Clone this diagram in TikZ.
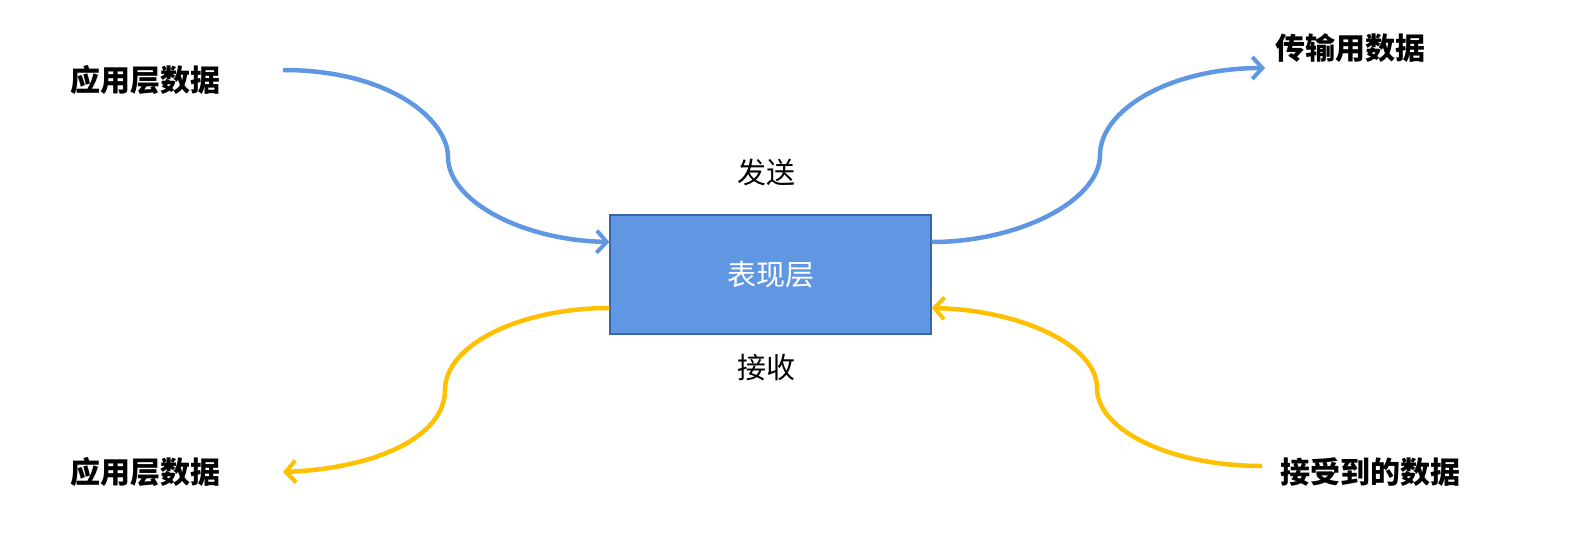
\documentclass[tikz,border=0pt]{standalone}
\usepackage{fontspec}
\newfontfamily\cjk{Noto Sans CJK SC}
\usetikzlibrary{arrows.meta}
\definecolor{bl}{HTML}{6097E3}
\definecolor{bld}{HTML}{3A64A8}
\definecolor{yl}{HTML}{FFC000}
\tikzset{
 lab/.style={font=\cjk\bfseries\fontsize{30}{34}\selectfont},
 txt/.style={font=\cjk\fontsize{29}{33}\selectfont},
 flow/.style={line width=4.5pt,-{Straight Barb[length=10pt,width=22pt,line width=4pt]}}
}
\begin{document}
\begin{tikzpicture}[x=1pt,y=-1pt]
\useasboundingbox (0,0) rectangle (1572,549);
\node[draw=bld,fill=bl,line width=1.2pt,minimum width=321pt,minimum height=119pt,inner sep=0pt,txt,text=white] (box) at (770.5,274.5) {表现层};
\node[lab] (a1) at (145,80) {应用层数据};
\node[lab] (t1) at (1350,48) {传输用数据};
\node[lab] (a2) at (145,472) {应用层数据};
\node[lab] (r1) at (1370,472) {接受到的数据};
\node[txt] (s) at (766,172) {发送};
\node[txt] (j) at (766,368) {接收};
\coordinate (p1) at (283,70);
\coordinate (p2) at (1265,68);
\coordinate (p3) at (283,472);
\coordinate (p4) at (1262,466);
\draw[flow,bl] (p1) .. controls (390,70) and (448,120) .. (448,157) .. controls (448,200) and (520,240) .. (box.west|-0,242);
\draw[flow,bl] (box.east|-0,242) .. controls (1020,242) and (1100,200) .. (1100,155) .. controls (1100,110) and (1170,68) .. (p2);
\draw[flow,yl] (box.west|-0,308) .. controls (520,308) and (445,345) .. (445,390) .. controls (445,435) and (380,468) .. (p3);
\draw[flow,yl] (p4) .. controls (1170,466) and (1097,430) .. (1097,388) .. controls (1097,345) and (1020,310) .. (box.east|-0,308);
\end{tikzpicture}
\end{document}
